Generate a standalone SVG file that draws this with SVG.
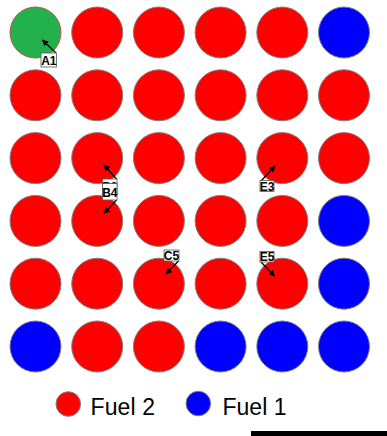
<svg xmlns="http://www.w3.org/2000/svg" width="387" height="436" viewBox="0 0 387 436">
<style>
.r{fill:#ff0000;stroke:#808080;stroke-width:1}
.b{fill:#0000ff;stroke:#808080;stroke-width:1}
.g{fill:#22b14c;stroke:#c0504d;stroke-width:1}
.lb rect{fill:#fff;stroke:#555;stroke-width:0.8}
.lb text{font-family:"Liberation Sans",Arial,sans-serif;font-weight:bold;font-size:12px;fill:#000;text-anchor:middle}
.ar{stroke:#000;stroke-width:1.3;fill:none;marker-end:url(#ah)}
.lg{font-family:"Liberation Sans",Arial,sans-serif;font-size:23px;fill:#000}
</style>
<defs>
<marker id="ah" viewBox="0 0 10 10" refX="9" refY="5" markerWidth="5" markerHeight="5" orient="auto">
<path d="M0,0 L10,5 L0,10 z" fill="#000"/>
</marker>
</defs>
<rect width="387" height="436" fill="#fff"/>
<g id="grid">
<g id="A1n"><circle class="g" cx="35.5" cy="32.5" r="25.5"/></g>
<g id="r1c2"><circle class="r" cx="97.2" cy="32.5" r="25.5"/></g>
<g id="r1c3"><circle class="r" cx="158.9" cy="32.5" r="25.5"/></g>
<g id="r1c4"><circle class="r" cx="220.6" cy="32.5" r="25.5"/></g>
<g id="r1c5"><circle class="r" cx="282.3" cy="32.5" r="25.5"/></g>
<g id="r1c6"><circle class="b" cx="344" cy="32.5" r="25.5"/></g>

<g id="r2c1"><circle class="r" cx="35.5" cy="95.3" r="25.5"/></g>
<g id="r2c2"><circle class="r" cx="97.2" cy="95.3" r="25.5"/></g>
<g id="r2c3"><circle class="r" cx="158.9" cy="95.3" r="25.5"/></g>
<g id="r2c4"><circle class="r" cx="220.6" cy="95.3" r="25.5"/></g>
<g id="r2c5"><circle class="r" cx="282.3" cy="95.3" r="25.5"/></g>
<g id="r2c6"><circle class="r" cx="344" cy="95.3" r="25.5"/></g>

<g id="r3c1"><circle class="r" cx="35.5" cy="158.1" r="25.5"/></g>
<g id="B3n"><circle class="r" cx="97.2" cy="158.1" r="25.5"/></g>
<g id="r3c3"><circle class="r" cx="158.9" cy="158.1" r="25.5"/></g>
<g id="r3c4"><circle class="r" cx="220.6" cy="158.1" r="25.5"/></g>
<g id="E3n"><circle class="r" cx="282.3" cy="158.1" r="25.5"/></g>
<g id="r3c6"><circle class="r" cx="344" cy="158.1" r="25.5"/></g>

<g id="r4c1"><circle class="r" cx="35.5" cy="220.9" r="25.5"/></g>
<g id="B4n"><circle class="r" cx="97.2" cy="220.9" r="25.5"/></g>
<g id="r4c3"><circle class="r" cx="158.9" cy="220.9" r="25.5"/></g>
<g id="r4c4"><circle class="r" cx="220.6" cy="220.9" r="25.5"/></g>
<g id="r4c5"><circle class="r" cx="282.3" cy="220.9" r="25.5"/></g>
<g id="r4c6"><circle class="b" cx="344" cy="220.9" r="25.5"/></g>

<g id="r5c1"><circle class="r" cx="35.5" cy="283.7" r="25.5"/></g>
<g id="r5c2"><circle class="r" cx="97.2" cy="283.7" r="25.5"/></g>
<g id="C5n"><circle class="r" cx="158.9" cy="283.7" r="25.5"/></g>
<g id="r5c4"><circle class="r" cx="220.6" cy="283.7" r="25.5"/></g>
<g id="E5n"><circle class="r" cx="282.3" cy="283.7" r="25.5"/></g>
<g id="r5c6"><circle class="b" cx="344" cy="283.7" r="25.5"/></g>

<g id="r6c1"><circle class="b" cx="35.5" cy="346.5" r="25.5"/></g>
<g id="r6c2"><circle class="r" cx="97.2" cy="346.5" r="25.5"/></g>
<g id="r6c3"><circle class="r" cx="158.9" cy="346.5" r="25.5"/></g>
<g id="r6c4"><circle class="b" cx="220.6" cy="346.5" r="25.5"/></g>
<g id="r6c5"><circle class="b" cx="282.3" cy="346.5" r="25.5"/></g>
<g id="r6c6"><circle class="b" cx="344" cy="346.5" r="25.5"/></g>
</g>
<g id="connectors">
<line class="ar" x1="56" y1="53" x2="42.5" y2="40"/>
<line class="ar" x1="116.5" y1="179" x2="104" y2="165"/>
<line class="ar" x1="116.5" y1="200" x2="104" y2="213.5"/>
<line class="ar" x1="178.5" y1="261" x2="166" y2="274"/>
<line class="ar" x1="261" y1="181" x2="275" y2="166"/>
<line class="ar" x1="261" y1="262" x2="274.5" y2="276"/>
</g>
<g id="lA1" class="lb"><rect x="41" y="53" width="15.5" height="14"/><text x="48.8" y="64.5">A1</text></g>
<g id="lB3" class="lb"><rect x="102.5" y="179" width="14.5" height="15"/><text x="109.8" y="190.5">B3</text></g>
<g id="lB4" class="lb"><rect x="102.5" y="183.5" width="14.5" height="16.5"/><text x="109.8" y="196.5">B4</text></g>
<g id="lC5" class="lb"><rect x="164" y="250" width="15" height="11"/><text x="171.5" y="260">C5</text></g>
<g id="lE3" class="lb"><rect x="260" y="180.5" width="14" height="11"/><text x="267" y="190.5">E3</text></g>
<g id="lE5" class="lb"><rect x="260" y="251.5" width="14" height="10.5"/><text x="267" y="261">E5</text></g>
<g id="legend">
<circle class="r" cx="68.3" cy="404" r="12.3"/>
<text class="lg" x="90.5" y="415" textLength="64.5">Fuel 2</text>
<circle class="b" cx="198.3" cy="403.5" r="12.3"/>
<text class="lg" x="222.5" y="415" textLength="64">Fuel 1</text>
</g>
<rect x="251" y="431" width="136" height="5" fill="#000"/>
</svg>
